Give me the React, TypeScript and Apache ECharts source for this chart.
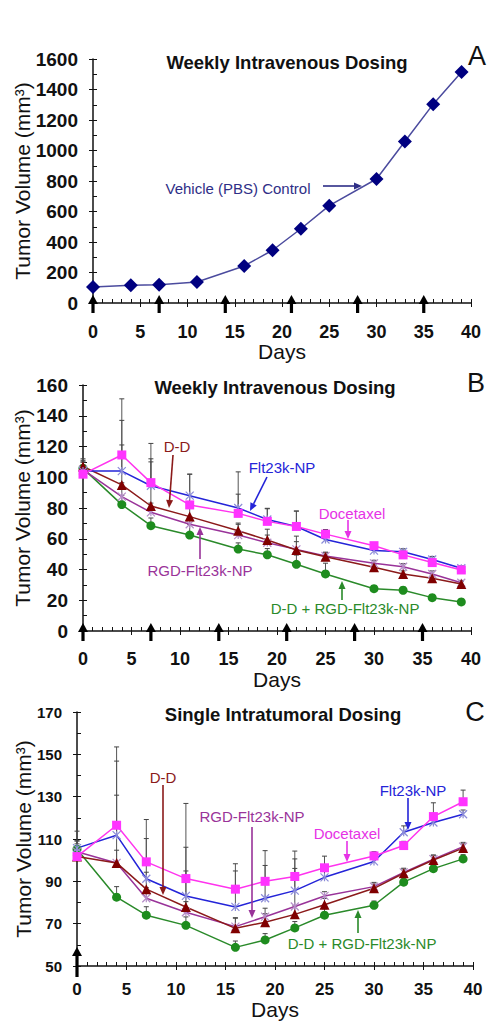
import React, { useEffect, useRef } from "react";
import * as echarts from "echarts";

// ---------- data ----------
const days = [0, 4, 7, 11, 16, 19, 22, 25, 30, 33, 36, 39];
const doseDaysWeekly = [0, 7, 14, 21, 28, 35];
const doseDaysSingle = [0];

// Panel A – vehicle control
const vehicleA = [105, 116, 120, 138, 243, 346, 487, 638, 813, 1059, 1304, 1515];

// Panel B – weekly intravenous dosing
const docetaxelB = [102, 114.5, 96.5, 82, 76.5, 71.3, 68, 63, 55.5, 49.5, 44.5, 39.7];
const flt23kB = [104, 104, 94.5, 88, 80, 72.5, 68, 59.5, 52.3, 51.5, 46.5, 40.8];
const ddB = [107, 95, 81.3, 74.4, 65.2, 59.2, 52.7, 48.3, 41.4, 37.1, 34.3, 30.6];
const rgdB = [105, 87.4, 77.2, 69.4, 62.4, 57.4, 53.1, 48.8, 44, 41.8, 37.1, 31.4];
const comboB = [105.8, 82.2, 68.5, 62.4, 53.3, 49.6, 43.4, 37.1, 27.5, 26.5, 21.7, 18.9];
const docetaxelErrB = [6, 36.5, 25.5, 20, 27, 8.5, 10, 3, 2, 3, 2.5, 2];
const flt23kErrB = [8, 33, 17.5, 14, 9, 7, 10, 3, 2, 2, 2, 1.5];
const ddErrB = [4, 26, 28.7, 6, 5, 7, 9, 3, 2, 2, 2, 1.5];
const rgdErrB = [5, 9, 6, 5, 7, 5, 5, 2, 2, 2, 2, 1.5];
const comboErrB = [4, 6, 5, 7, 4, 4, 6, 7, 2, 2, 2, 1.5];

// Panel C – single intratumoral dosing
const docetaxelC = [101.7, 116.5, 99.2, 91.3, 86.3, 90, 92.3, 96.4, 102, 106.9, 120.6, 127.6];
const flt23kC = [105.7, 111.8, 91.2, 83.1, 77.9, 82, 85.6, 91.9, 99.4, 113.2, 117.8, 121.7];
const ddC = [101.7, 98.7, 86.3, 77.9, 67.8, 70.7, 74.4, 78.9, 86.7, 93.8, 100.1, 105.7];
const rgdC = [104, 98.7, 82, 75.4, 68.6, 73.3, 78.1, 83.1, 87.5, 94.2, 100.5, 106.4];
const comboC = [105.2, 82.5, 74, 69.2, 58.8, 62.3, 68, 74, 78.7, 89.6, 96, 100.6];
const docetaxelErrC = [6, 37, 20, 35.5, 12, 14.5, 12, 5.5, 2, 2, 6.5, 5.5];
const flt23kErrC = [8, 35, 19, 23, 17, 15.5, 15, 3, 2, 3, 2, 2];
const ddErrC = [4, 32, 8, 17, 5, 4, 4, 3, 2, 2, 2, 2];
const rgdErrC = [5, 6, 5, 5, 4, 4, 18, 2, 2, 2, 2, 2];
const comboErrC = [4, 5, 4, 4, 3, 3, 3, 3, 2, 2, 2, 2];

// ---------- styles ----------
const FONT = '"Liberation Sans", Arial, sans-serif';
const C_DOC = "#FF33EE";
const C_FLT = "#2424D8";
const C_FLT_M = "#8C8CD8";
const C_DD = "#8B1A1A";
const C_RGD = "#993399";
const C_RGD_M = "#B58CC8";
const C_COMBO = "#2A8A2A";
const XMARK = "path://M0 0L10 10M10 0L0 10M5 0L5 10";

function arrowAnno(
  text: string, color: string, tx: number, ty: number,
  x1: number, y1: number, x2: number, y2: number, fs = 15
) {
  const dx = x2 - x1, dy = y2 - y1;
  const len = Math.hypot(dx, dy);
  const ux = dx / len, uy = dy / len;
  const hl = 8, hw = 3.5;
  const bx = x2 - ux * hl, by = y2 - uy * hl;
  return [
    {
      type: "text", x: tx, y: ty, z: 100,
      style: {
        text, fill: color, fontSize: fs, fontFamily: FONT,
        align: "center", verticalAlign: "middle",
        textAlign: "center", textVerticalAlign: "middle",
      },
    },
    { type: "line", z: 100, shape: { x1, y1, x2: bx, y2: by }, style: { stroke: color, lineWidth: 1.6 } },
    {
      type: "polygon", z: 100,
      shape: { points: [[x2, y2], [bx - uy * hw, by + ux * hw], [bx + uy * hw, by - ux * hw]] },
      style: { fill: color },
    },
  ];
}

function letter(t: string, x: number, y: number) {
  return {
    type: "text", x, y,
    style: {
      text: t, fill: "#111", fontSize: 27, fontFamily: FONT,
      align: "center", verticalAlign: "middle", textAlign: "center", textVerticalAlign: "middle",
    },
  };
}

function pairs(vals: number[]) {
  return days.map((d, i) => [d, vals[i]]);
}

function errData(vals: number[], errs: number[]) {
  return days.map((d, i) => [d, vals[i], vals[i] + errs[i]]);
}

function errSeries(idx: number, vals: number[], errs: number[]) {
  return {
    type: "custom", xAxisIndex: idx * 2, yAxisIndex: idx * 2, z: 1, silent: true,
    data: errData(vals, errs),
    renderItem: (_p: any, api: any) => {
      const a = api.coord([api.value(0), api.value(1)]);
      const b = api.coord([api.value(0), api.value(2)]);
      return {
        type: "group",
        children: [
          { type: "line", shape: { x1: a[0], y1: a[1], x2: b[0], y2: b[1] }, style: { stroke: "#555", lineWidth: 1 } },
          { type: "line", shape: { x1: b[0] - 2.5, y1: b[1], x2: b[0] + 2.5, y2: b[1] }, style: { stroke: "#444", lineWidth: 1 } },
        ],
      };
    },
  };
}

function doseSeries(idx: number, doseDays: number[], yMin: number, up: number, down: number) {
  return {
    type: "custom", xAxisIndex: idx * 2, yAxisIndex: idx * 2, z: 20, clip: false, silent: true,
    data: doseDays.map((d) => [d, yMin]),
    renderItem: (_p: any, api: any) => {
      const p = api.coord([api.value(0), api.value(1)]);
      const tip = p[1] - up;
      return {
        type: "group",
        children: [
          { type: "line", shape: { x1: p[0], y1: p[1] + down, x2: p[0], y2: tip + 6 }, style: { stroke: "#000", lineWidth: 3.2 } },
          {
            type: "polygon",
            shape: { points: [[p[0], tip], [p[0] - 5, tip + 9], [p[0] + 5, tip + 9]] },
            style: { fill: "#000" },
          },
        ],
      };
    },
  };
}

function lineSeries(idx: number, vals: number[], color: string, symbol: string, size: number, markColor: string, cross = false) {
  return {
    type: "line", xAxisIndex: idx * 2, yAxisIndex: idx * 2, z: 5,
    data: pairs(vals),
    symbol, symbolSize: size, showSymbol: true,
    lineStyle: { color, width: 1.5 },
    itemStyle: cross
      ? { color: "transparent", borderColor: markColor, borderWidth: 1.2 }
      : { color: markColor, borderWidth: 0 },
  };
}

type AxisCfg = {
  grid: number; min: number; max: number; interval: number;
  yLabelSize: number; nameGap: number; xNameGap: number; xLabelMargin: number; xLabelSize: number;
};

function axes(c: AxisCfg) {
  const tickStyle = { color: "#111", width: 1 };
  const xMain = {
    type: "value", gridIndex: c.grid, min: 0, max: 40, interval: 5, position: "bottom",
    name: "Days", nameLocation: "middle", nameGap: c.xNameGap, nameMoveOverlap: false,
    nameTextStyle: { fontSize: 21, fontFamily: FONT, color: "#111" },
    axisLine: { show: true, onZero: false, lineStyle: { color: "#111", width: 1.5 } },
    axisTick: { show: true, inside: true, length: 4, lineStyle: tickStyle },
    minorTick: { show: true, splitNumber: 5, length: 4, lineStyle: tickStyle },
    axisLabel: { fontSize: c.xLabelSize, fontWeight: "bold", fontFamily: FONT, color: "#111", margin: c.xLabelMargin },
    splitLine: { show: false },
  };
  const xDup = {
    type: "value", gridIndex: c.grid, min: 0, max: 40, interval: 5, position: "bottom",
    axisLine: { show: false, onZero: false },
    axisTick: { show: true, inside: false, length: 4, lineStyle: tickStyle },
    axisLabel: { show: false }, splitLine: { show: false },
  };
  const yMain = {
    type: "value", gridIndex: c.grid, min: c.min, max: c.max, interval: c.interval, position: "left",
    name: "Tumor Volume (mm³)", nameLocation: "middle", nameGap: c.nameGap, nameMoveOverlap: false,
    nameTextStyle: { fontSize: 21, fontFamily: FONT, color: "#111" },
    axisLine: { show: true, onZero: false, lineStyle: { color: "#111", width: 1.5 } },
    axisTick: { show: true, inside: true, length: 4, lineStyle: tickStyle },
    minorTick: { show: true, splitNumber: 2, length: 4, lineStyle: tickStyle },
    axisLabel: {
      fontSize: c.yLabelSize, fontWeight: "bold", fontFamily: FONT, color: "#111", margin: 15,
      formatter: (v: number) => String(v),
    },
    splitLine: { show: false },
  };
  const yDup = {
    type: "value", gridIndex: c.grid, min: c.min, max: c.max, interval: c.interval, position: "left",
    axisLine: { show: false, onZero: false },
    axisTick: { show: true, inside: false, length: 4, lineStyle: tickStyle },
    axisLabel: { show: false }, splitLine: { show: false },
  };
  return { x: [xMain, xDup], y: [yMain, yDup] };
}

export default function App() {
  const ref = useRef<HTMLDivElement>(null);

  useEffect(() => {
    if (!ref.current) return;
    const chart = echarts.init(ref.current, undefined, { renderer: "svg" });

    const aA = axes({ grid: 0, min: 0, max: 1600, interval: 200, yLabelSize: 19, nameGap: 60, xNameGap: 38, xLabelMargin: 20, xLabelSize: 18 });
    const aB = axes({ grid: 1, min: 0, max: 160, interval: 20, yLabelSize: 19, nameGap: 50, xNameGap: 38, xLabelMargin: 19, xLabelSize: 18 });
    const aC = axes({ grid: 2, min: 50, max: 170, interval: 20, yLabelSize: 15, nameGap: 43, xNameGap: 33, xLabelMargin: 15, xLabelSize: 17 });

    const titleStyle = { fontSize: 18.5, fontWeight: "bold", fontFamily: FONT, color: "#111" };

    const gridBase = { outerBoundsMode: "none", containLabel: false };

    const option: any = {
      animation: false,
      backgroundColor: "#fff",
      title: [
        { text: "Weekly Intravenous Dosing", left: 287, top: 53, textAlign: "center", padding: 0, textStyle: titleStyle },
        { text: "Weekly Intravenous Dosing", left: 275, top: 378, textAlign: "center", padding: 0, textStyle: titleStyle },
        { text: "Single Intratumoral Dosing", left: 283, top: 705, textAlign: "center", padding: 0, textStyle: titleStyle },
      ],
      grid: [
        { ...gridBase, left: 93, top: 59, width: 378, height: 244 },
        { ...gridBase, left: 83, top: 385, width: 388, height: 246 },
        { ...gridBase, left: 77, top: 712, width: 396, height: 254 },
      ],
      xAxis: [...aA.x, ...aB.x, ...aC.x],
      yAxis: [...aA.y, ...aB.y, ...aC.y],
      series: [
        // Panel A
        {
          type: "line", xAxisIndex: 0, yAxisIndex: 0, z: 5, data: pairs(vehicleA),
          symbol: "diamond", symbolSize: 14, lineStyle: { color: "#4B4B9E", width: 1.5 },
          itemStyle: { color: "#000080" },
        },
        doseSeries(0, doseDaysWeekly, 0, 8, 10),
        // Panel B
        errSeries(1, docetaxelB, docetaxelErrB),
        errSeries(1, flt23kB, flt23kErrB),
        errSeries(1, ddB, ddErrB),
        errSeries(1, rgdB, rgdErrB),
        errSeries(1, comboB, comboErrB),
        lineSeries(1, comboB, C_COMBO, "circle", 9, "#1E8C1E"),
        lineSeries(1, rgdB, C_RGD, XMARK, 8, C_RGD_M, true),
        lineSeries(1, ddB, C_DD, "triangle", 10, "#800000"),
        lineSeries(1, flt23kB, C_FLT, XMARK, 8, C_FLT_M, true),
        lineSeries(1, docetaxelB, C_DOC, "rect", 9, "#FF33FF"),
        doseSeries(1, doseDaysWeekly, 0, 8, 10),
        // Panel C
        errSeries(2, docetaxelC, docetaxelErrC),
        errSeries(2, flt23kC, flt23kErrC),
        errSeries(2, ddC, ddErrC),
        errSeries(2, rgdC, rgdErrC),
        errSeries(2, comboC, comboErrC),
        lineSeries(2, comboC, C_COMBO, "circle", 9, "#1E8C1E"),
        lineSeries(2, rgdC, C_RGD, XMARK, 8, C_RGD_M, true),
        lineSeries(2, ddC, C_DD, "triangle", 10, "#800000"),
        lineSeries(2, flt23kC, C_FLT, XMARK, 8, C_FLT_M, true),
        lineSeries(2, docetaxelC, C_DOC, "rect", 9, "#FF33FF"),
        doseSeries(2, doseDaysSingle, 50, 19, 11),
      ],
      graphic: [
        letter("A", 477, 56),
        letter("B", 476, 383),
        letter("C", 475, 712),
        ...arrowAnno("Vehicle (PBS) Control", "#2E2E86", 238, 188, 323, 186, 362, 186),
        // Panel B
        ...arrowAnno("D-D", C_DD, 177, 446, 173, 455, 169, 508),
        ...arrowAnno("Flt23k-NP", C_FLT, 282, 467, 267, 477, 250, 511),
        ...arrowAnno("Docetaxel", "#E632E6", 352, 513, 348, 520, 348, 539),
        ...arrowAnno("RGD-Flt23k-NP", C_RGD, 200, 570, 200, 559, 200, 527),
        ...arrowAnno("D-D + RGD-Flt23k-NP", C_COMBO, 345, 608, 342, 600, 342, 581),
        // Panel C
        ...arrowAnno("D-D", C_DD, 163, 777, 163, 785, 163, 895),
        ...arrowAnno("RGD-Flt23k-NP", C_RGD, 252, 816, 252, 827, 252, 918),
        ...arrowAnno("Docetaxel", "#E632E6", 347, 833, 347, 841, 347, 862),
        ...arrowAnno("Flt23k-NP", C_FLT, 413, 790, 408, 798, 408, 830),
        ...arrowAnno("D-D + RGD-Flt23k-NP", C_COMBO, 362, 943, 358, 933, 358, 910),
      ],
    };

    chart.setOption(option);
    return () => chart.dispose();
  }, []);

  return (
    <div
      ref={ref}
      style={{ position: "absolute", left: 0, top: 0, width: 497, height: 1029, background: "#fff" }}
    />
  );
}
